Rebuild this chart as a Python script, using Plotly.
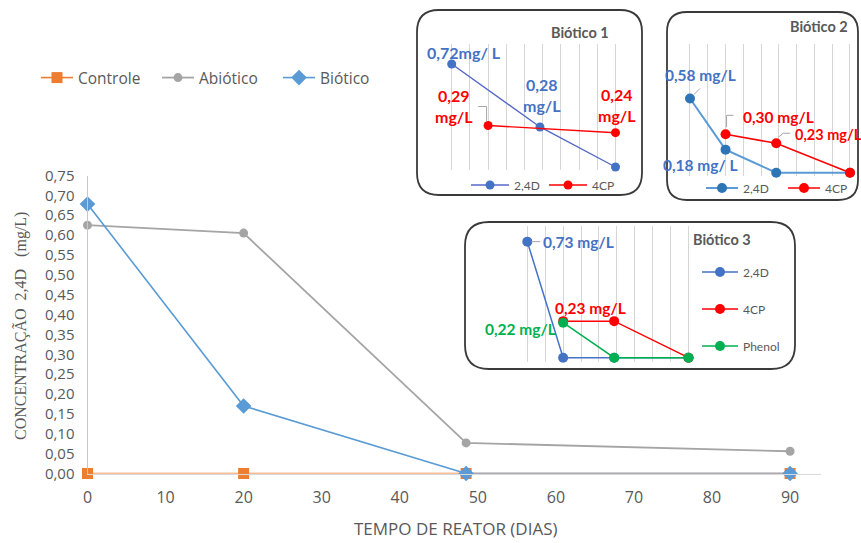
import plotly.graph_objects as go

W, H = 861, 543

# ---- main chart: 2,4-D concentration over reactor time ----
dias = [0, 20, 48.5, 90]
controle = [0.0, 0.0, 0.0, 0.0]
abiotico = [0.625, 0.605, 0.077, 0.056]
biotico = [0.678, 0.17, 0.0, 0.0]

# ---- inset "Biótico 1" ----
b1_24d_x = [0, 48.5, 90]
b1_24d_y = [0.72, 0.28, 0.0]
b1_4cp_x = [20, 90]
b1_4cp_y = [0.29, 0.24]

# ---- inset "Biótico 2" ----
b2_24d_x = [0, 20, 48.5, 90]
b2_24d_y = [0.58, 0.18, 0.0, 0.0]
b2_4cp_x = [20, 48.5, 90]
b2_4cp_y = [0.30, 0.23, 0.0]

# ---- inset "Biótico 3" ----
b3_24d_x = [0, 20, 48.5, 90]
b3_24d_y = [0.73, 0.0, 0.0, 0.0]
b3_4cp_x = [20, 48.5, 90]
b3_4cp_y = [0.23, 0.23, 0.0]
b3_phenol_x = [20, 48.5, 90]
b3_phenol_y = [0.22, 0.0, 0.0]

GRAY_TXT = "#595959"
ORANGE = "#ED7D31"
GRAY = "#A5A5A5"
BLUE = "#5B9BD5"
RED = "#FF0000"
GREEN = "#00B050"
LBL_BLUE = "#4472C4"

MAIN_FONT = "Open Sans"
INSET_FONT = "Lato"


def fx(p):
    return p / W


def fy(p):
    return 1 - p / H


def fmt(v):
    return f"{v:.2f}".replace(".", ",")


fig = go.Figure()

# main series
fig.add_trace(go.Scatter(x=dias, y=controle, name="Controle", mode="lines+markers",
                         line=dict(color=ORANGE, width=1.6),
                         marker=dict(symbol="square", size=11, color=ORANGE),
                         cliponaxis=False, legend="legend"))
fig.add_trace(go.Scatter(x=dias, y=abiotico, name="Abiótico", mode="lines+markers",
                         line=dict(color=GRAY, width=1.8),
                         marker=dict(symbol="circle", size=9, color=GRAY),
                         cliponaxis=False, legend="legend"))
fig.add_trace(go.Scatter(x=dias, y=biotico, name="Biótico", mode="lines+markers",
                         line=dict(color=BLUE, width=1.6),
                         marker=dict(symbol="diamond", size=12, color=BLUE),
                         cliponaxis=False, legend="legend"))

# inset 1
fig.add_trace(go.Scatter(x=b1_24d_x, y=b1_24d_y, name="2,4D", mode="lines+markers",
                         xaxis="x2", yaxis="y2", line=dict(color="#5468C8", width=1.4),
                         marker=dict(size=9, color=LBL_BLUE), cliponaxis=False, legend="legend2"))
fig.add_trace(go.Scatter(x=b1_4cp_x, y=b1_4cp_y, name="4CP", mode="lines+markers",
                         xaxis="x2", yaxis="y2", line=dict(color=RED, width=1.4),
                         marker=dict(size=9, color=RED), cliponaxis=False, legend="legend2"))

# inset 2
fig.add_trace(go.Scatter(x=b2_24d_x, y=b2_24d_y, name="2,4D", mode="lines+markers",
                         xaxis="x3", yaxis="y3", line=dict(color=BLUE, width=2),
                         marker=dict(size=10, color="#2E75B6"), cliponaxis=False, legend="legend3"))
fig.add_trace(go.Scatter(x=b2_4cp_x, y=b2_4cp_y, name="4CP", mode="lines+markers",
                         xaxis="x3", yaxis="y3", line=dict(color=RED, width=1.6),
                         marker=dict(size=10, color=RED), cliponaxis=False, legend="legend3"))

# inset 3
fig.add_trace(go.Scatter(x=b3_24d_x, y=b3_24d_y, name="2,4D", mode="lines+markers",
                         xaxis="x4", yaxis="y4", line=dict(color=LBL_BLUE, width=1.5),
                         marker=dict(size=10, color=LBL_BLUE), cliponaxis=False,
                         legend="legend4", legendgroup="a"))
fig.add_trace(go.Scatter(x=b3_4cp_x, y=b3_4cp_y, name="4CP", mode="lines+markers",
                         xaxis="x4", yaxis="y4", line=dict(color=RED, width=1.5),
                         marker=dict(size=10, color=RED), cliponaxis=False,
                         legend="legend4", legendgroup="b"))
fig.add_trace(go.Scatter(x=b3_phenol_x, y=b3_phenol_y, name="Phenol", mode="lines+markers",
                         xaxis="x4", yaxis="y4", line=dict(color=GREEN, width=1.5),
                         marker=dict(size=10, color=GREEN), cliponaxis=False,
                         legend="legend4", legendgroup="c"))


def inset_axes(x0_px, x90_px, y0_px, ppu, top_px, bottom_px):
    """Axis dicts for an inset whose day 0 / day 90 and value 0 sit at given pixels."""
    k = (x90_px - x0_px) / 90.0
    xa = dict(domain=[fx(x0_px - 3 * k), fx(x90_px + 3 * k)], range=[-3, 93],
              tick0=0, dtick=10, showgrid=True, gridcolor="#D6D6D6", gridwidth=1.2,
              showticklabels=False, zeroline=False, showline=False, ticks="",
              automargin=False)
    ya = dict(domain=[fy(bottom_px), fy(top_px)],
              range=[(y0_px - bottom_px) / ppu, (y0_px - top_px) / ppu],
              showgrid=False, showticklabels=False, zeroline=False, showline=False, ticks="",
              automargin=False)
    return xa, ya


x2, y2 = inset_axes(451.7, 615.5, 167.0, 143.0, 44, 170)
x3, y3 = inset_axes(690.0, 850.0, 172.7, 128.0, 44, 176)
x4, y4 = inset_axes(527.3, 688.5, 357.7, 159.0, 226, 362)
x2.update(anchor="y2"); y2.update(anchor="x2")
x3.update(anchor="y3"); y3.update(anchor="x3")
x4.update(anchor="y4"); y4.update(anchor="x4")

xtick_font = dict(family=MAIN_FONT, size=16, color=GRAY_TXT)
ytick_font = dict(family=MAIN_FONT, size=15, color=GRAY_TXT)


def legend_box(x, y, orientation, size, itemwidth=30, **kw):
    return dict(orientation=orientation, x=fx(x), y=fy(y), xref="container", yref="container",
                xanchor="left", yanchor="middle",
                font=dict(family=kw.pop("family", INSET_FONT), size=size, color=GRAY_TXT),
                bgcolor="rgba(0,0,0,0)", borderwidth=0, itemwidth=itemwidth, **kw)


fig.update_layout(
    width=W, height=H, autosize=False,
    margin=dict(l=0, r=0, t=0, b=0, pad=0, autoexpand=False),
    paper_bgcolor="white", plot_bgcolor="rgba(0,0,0,0)",
    separators=",.",
    xaxis=dict(domain=[fx(87.5), fx(821.3)], range=[0, 94], tick0=0, dtick=10,
               showgrid=False, zeroline=False, showline=True, linecolor="#D9D9D9",
               linewidth=1, ticks="", tickfont=xtick_font, ticklabelstandoff=9,
               automargin=False),
    yaxis=dict(domain=[fy(473.5), fy(175.5)], range=[0, 0.75], tick0=0, dtick=0.05,
               tickformat=".2f", showgrid=False, zeroline=False, showline=True,
               linecolor="#C8C8C8", linewidth=1, ticks="", tickfont=ytick_font,
               ticklabelstandoff=9, automargin=False),
    xaxis2=x2, yaxis2=y2, xaxis3=x3, yaxis3=y3, xaxis4=x4, yaxis4=y4,
    legend=legend_box(36, 78, "h", 15.5, family=MAIN_FONT, itemwidth=32, entrywidth=74),
    legend2=legend_box(466, 185, "h", 12, itemwidth=38, entrywidth=25),
    legend3=legend_box(701, 188, "h", 12, itemwidth=32, entrywidth=35),
    legend4=legend_box(697, 309, "v", 12, itemwidth=36, tracegroupgap=18,
                       traceorder="grouped"),
    showlegend=True,
)


def rounded_box(l, t, r, b, rad):
    pts = [
        f"M {fx(l + rad)},{fy(t)}", f"L {fx(r - rad)},{fy(t)}",
        f"Q {fx(r)},{fy(t)} {fx(r)},{fy(t + rad)}", f"L {fx(r)},{fy(b - rad)}",
        f"Q {fx(r)},{fy(b)} {fx(r - rad)},{fy(b)}", f"L {fx(l + rad)},{fy(b)}",
        f"Q {fx(l)},{fy(b)} {fx(l)},{fy(b - rad)}", f"L {fx(l)},{fy(t + rad)}",
        f"Q {fx(l)},{fy(t)} {fx(l + rad)},{fy(t)}", "Z",
    ]
    return dict(type="path", xref="paper", yref="paper", path=" ".join(pts),
                line=dict(color="#3A3A3A", width=1.8), fillcolor="rgba(0,0,0,0)",
                layer="below")


shapes = [
    rounded_box(417, 10, 642, 195, 22),
    rounded_box(667, 12, 858, 200, 20),
    rounded_box(465, 222, 795, 369, 24),
]


def leader(xref, yref, x, y, path):
    return dict(type="path", xref=xref, yref=yref, xsizemode="pixel", ysizemode="pixel",
                xanchor=x, yanchor=y, path=path, line=dict(color="#A6A6A6", width=1))


shapes += [
    leader("x2", "y2", b1_4cp_x[0], b1_4cp_y[0], "M -10,19 L -1.5,19 L -1.5,4"),
    leader("x3", "y3", b2_24d_x[0], b2_24d_y[0], "M 10,10 L 4,4"),
    leader("x3", "y3", b2_4cp_x[0], b2_4cp_y[0], "M 1,7 L 1,19 L 8,19"),
    leader("x3", "y3", b2_4cp_x[1], b2_4cp_y[1], "M 2,6 L 7,10 L 14,10"),
    leader("x4", "y4", b3_24d_x[0], b3_24d_y[0], "M 4,0 L 13,0"),
]
fig.update_layout(shapes=shapes)

annotations = []


def value_label(xref, yref, x, y, text, color, xs, ys, size=15.5, xanchor="center"):
    annotations.append(dict(xref=xref, yref=yref, x=x, y=y, text=f"<b>{text}</b>",
                            showarrow=False, xshift=xs, yshift=ys, xanchor=xanchor,
                            yanchor="middle", align="center",
                            font=dict(family=INSET_FONT, size=size, color=color)))


# inset 1 labels
value_label("x2", "y2", b1_24d_x[0], b1_24d_y[0], fmt(b1_24d_y[0]) + "mg/ L", LBL_BLUE, 12, 12, 16)
value_label("x2", "y2", b1_24d_x[1], b1_24d_y[1], fmt(b1_24d_y[1]) + "<br>mg/L", LBL_BLUE, 2, 32, 16)
value_label("x2", "y2", b1_4cp_x[0], b1_4cp_y[0], fmt(b1_4cp_y[0]) + "<br>mg/L", RED, -34, 20, 16)
value_label("x2", "y2", b1_4cp_x[1], b1_4cp_y[1], fmt(b1_4cp_y[1]) + "<br>mg/L", RED, 1.5, 28, 16)
# inset 2 labels
value_label("x3", "y3", b2_24d_x[0], b2_24d_y[0], fmt(b2_24d_y[0]) + " mg/L", LBL_BLUE, 11, 23.5)
value_label("x3", "y3", b2_24d_x[1], b2_24d_y[1], fmt(b2_24d_y[1]) + " mg/ L", LBL_BLUE, -25, -15)
value_label("x3", "y3", b2_4cp_x[0], b2_4cp_y[0], fmt(b2_4cp_y[0]) + " mg/L", RED, 53, 17)
value_label("x3", "y3", b2_4cp_x[1], b2_4cp_y[1], fmt(b2_4cp_y[1]) + " mg/L", RED, 17, 9,
            size=14.5, xanchor="left")
# inset 3 labels
value_label("x4", "y4", b3_24d_x[0], b3_24d_y[0], fmt(b3_24d_y[0]) + " mg/L", LBL_BLUE, 14, 0,
            xanchor="left")
value_label("x4", "y4", b3_4cp_x[0], b3_4cp_y[0], fmt(b3_4cp_y[0]) + " mg/L", RED, 27, 13)
value_label("x4", "y4", b3_phenol_x[0], b3_phenol_y[0], fmt(b3_phenol_y[0]) + " mg/L", GREEN, -43, -6)

# inset titles
for label, cx, cy in [("Biótico 1", 580, 33), ("Biótico 2", 819, 27), ("Biótico 3", 722, 239)]:
    annotations.append(dict(xref="paper", yref="paper", x=fx(cx), y=fy(cy), text=f"<b>{label}</b>",
                            showarrow=False, xanchor="center", yanchor="middle",
                            font=dict(family=INSET_FONT, size=14.5, color=GRAY_TXT)))

# axis titles
annotations.append(dict(xref="paper", yref="paper", x=fx(456), y=fy(528),
                        text="TEMPO DE REATOR (DIAS)", showarrow=False,
                        xanchor="center", yanchor="middle",
                        font=dict(family=MAIN_FONT, size=17, color=GRAY_TXT)))
annotations.append(dict(xref="paper", yref="paper", x=fx(21), y=fy(326),
                        text="CONCENTRAÇÃO  2,4D   (mg/L)", showarrow=False, textangle=-90,
                        xanchor="center", yanchor="middle",
                        font=dict(family="Liberation Serif", size=16, color=GRAY_TXT)))

fig.update_layout(annotations=annotations)

fig.write_html("out.html")
